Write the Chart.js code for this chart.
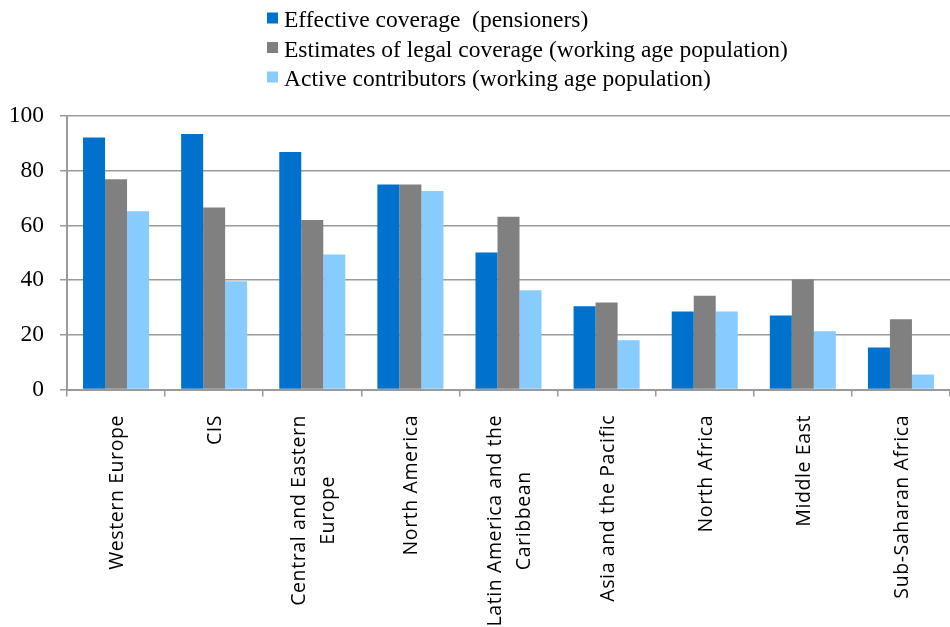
<!DOCTYPE html>
<html>
<head>
<meta charset="utf-8">
<script src="https://cdn.jsdelivr.net/npm/chart.js@4/dist/chart.umd.min.js"></script>
<style>
  html, body { margin: 0; padding: 0; background: #ffffff; }
  #wrap { width: 950px; height: 627px; }
</style>
</head>
<body>
<div id="wrap"><canvas id="c" width="950" height="627"></canvas></div>
<script>
const categories = [
  ["Western Europe"],
  ["CIS"],
  ["Central and Eastern", "Europe"],
  ["North America"],
  ["Latin America and the", "Caribbean"],
  ["Asia and the Pacific"],
  ["North Africa"],
  ["Middle East"],
  ["Sub-Saharan Africa"]
];
const seriesNames = [
  "Effective coverage  (pensioners)",
  "Estimates of legal coverage (working age population)",
  "Active contributors (working age population)"
];
const effectiveCoverage = [92.1, 93.4, 86.8, 75.0, 50.1, 30.4, 28.5, 27.1, 15.4];
const legalCoverage     = [76.9, 66.5, 62.0, 75.0, 63.2, 31.8, 34.3, 40.2, 25.7];
const activeContributors = [65.2, 39.6, 49.4, 72.6, 36.3, 18.0, 28.5, 21.3, 5.5];
const yTicks = [0, 20, 40, 60, 80, 100];

const colors = ["#0071CC", "#808080", "#88CBFF"];
const gridColor = "#9a9a9a";

const legendPlugin = {
  id: "customLegend",
  afterDraw(chart) {
    const ctx = chart.ctx;
    ctx.save();
    ctx.font = "23.5px 'Liberation Serif'";
    ctx.textAlign = "left";
    ctx.textBaseline = "alphabetic";
    chart.data.datasets.forEach((ds, i) => {
      const cy = 18 + i * 29.5;
      ctx.fillStyle = ds.backgroundColor;
      ctx.fillRect(267, cy - 5.5, 11, 11);
      ctx.fillStyle = "#000";
      ctx.fillText(ds.label, 284, cy + 9.3);
    });
    ctx.restore();
  }
};

const LS = 0.6;
const xLabelPlugin = {
  id: "xLabels",
  afterDraw(chart) {
    const ctx = chart.ctx;
    const xs = chart.scales.x;
    ctx.save();
    ctx.font = "19.5px 'Open Sans'";
    ctx.fillStyle = "#000";
    ctx.textBaseline = "middle";
    const width = (t) => ctx.measureText(t).width + LS * (t.length - 1);
    const top = xs.top + 26;
    chart.data.labels.forEach((lines, i) => {
      const x = xs.getPixelForValue(i) + 1.5;
      if ('letterSpacing' in ctx) ctx.letterSpacing = "0px";
      const widths = lines.map(width);
      if ('letterSpacing' in ctx) ctx.letterSpacing = LS + "px";
      const maxW = Math.max(...widths);
      lines.forEach((l, j) => {
        const off = (j - (lines.length - 1) / 2) * 29;
        const cy = top + maxW / 2;
        const start = cy + widths[j] / 2;
        ctx.save();
        ctx.translate(x + off, start);
        ctx.rotate(-Math.PI / 2);
        ctx.textAlign = "left";
        ctx.fillText(l, 0, 0);
        ctx.restore();
      });
    });
    ctx.restore();
  }
};

new Chart(document.getElementById("c"), {
  type: "bar",
  data: {
    labels: categories,
    datasets: [
      { label: seriesNames[0], data: effectiveCoverage, backgroundColor: colors[0] },
      { label: seriesNames[1], data: legalCoverage, backgroundColor: colors[1] },
      { label: seriesNames[2], data: activeContributors, backgroundColor: colors[2] }
    ]
  },
  options: {
    responsive: false,
    devicePixelRatio: 1,
    animation: false,
    layout: { padding: { top: 116, left: 0, right: -9, bottom: 0 } },
    datasets: { bar: { categoryPercentage: 0.673, barPercentage: 1.0 } },
    plugins: { legend: { display: false }, tooltip: { enabled: false } },
    scales: {
      x: {
        offset: true,
        grid: { offset: true, drawOnChartArea: false, drawTicks: true, tickLength: 7, color: gridColor, lineWidth: 1.5 },
        border: { display: true, color: gridColor, width: 2 },
        ticks: { display: false },
        afterFit(scale) { scale.height = 237.5; }
      },
      y: {
        min: 0,
        max: 100,
        afterBuildTicks(scale) { scale.ticks = yTicks.map(v => ({ value: v })); },
        ticks: { font: { family: "'Liberation Serif'", size: 23.5 }, color: "#000", padding: 16 },
        grid: { color: gridColor, lineWidth: 1.5, tickLength: 7, drawTicks: true },
        border: { display: true, color: gridColor, width: 2 },
        afterFit(scale) { scale.width = 67; }
      }
    }
  },
  plugins: [legendPlugin, xLabelPlugin]
});
</script>
</body>
</html>
